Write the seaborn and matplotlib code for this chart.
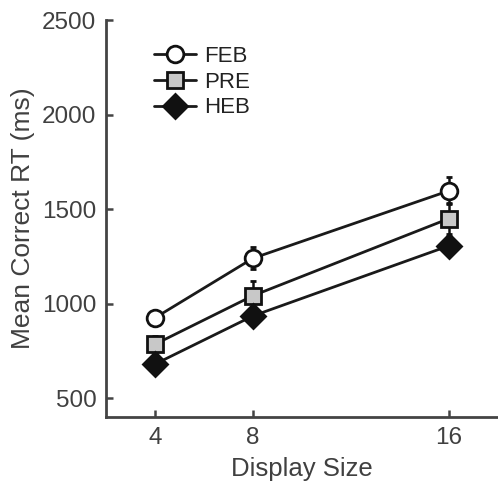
import matplotlib
matplotlib.use("Agg")
import matplotlib.pyplot as plt
import seaborn as sns
import pandas as pd

display_size = [4, 8, 16]
groups = ["FEB", "PRE", "HEB"]
feb_rt = [925, 1240, 1597]
pre_rt = [785, 1042, 1450]
heb_rt = [680, 935, 1306]
feb_err = [30, 58, 72]
pre_err = [42, 80, 80]
heb_err = [20, 30, 40]
y_ticks = [500, 1000, 1500, 2000, 2500]

sns.set_style("ticks")
plt.rcParams['font.family'] = ['Liberation Sans', 'DejaVu Sans']

rows = []
for g, vals, errs in zip(groups, [feb_rt, pre_rt, heb_rt], [feb_err, pre_err, heb_err]):
    for x, v, e in zip(display_size, vals, errs):
        rows.append({"size": x, "group": g, "rt": v, "err": e})
df = pd.DataFrame(rows)

fig = plt.figure(figsize=(4.98, 4.90), dpi=100)
ax = fig.add_axes([0.213, 0.149, 0.787, 0.81])

styles = {
    "FEB": dict(marker="o", mfc="white", ms=12),
    "PRE": dict(marker="s", mfc="#c8c8c8", ms=11),
    "HEB": dict(marker="D", mfc="#111111", ms=12),
}

for g in groups:
    sub = df[df.group == g]
    ax.errorbar(sub["size"], sub["rt"], yerr=sub["err"], fmt="none",
                ecolor="#111111", elinewidth=1.8, capsize=2.5, capthick=2.0, zorder=2)

for g in groups:
    sub = df[df.group == g]
    st = styles[g]
    sns.lineplot(data=sub, x="size", y="rt", ax=ax, color="#1a1a1a", linewidth=2.0,
                 marker=st["marker"], markerfacecolor=st["mfc"], markeredgecolor="#111111",
                 markeredgewidth=2.0, markersize=st["ms"], label=g, zorder=3)

ax.set_xlim(2, 18)
ax.set_ylim(400, 2500)
ax.set_xticks(display_size)
ax.set_xticklabels([str(v) for v in display_size])
ax.set_yticks(y_ticks)
ax.set_yticklabels([str(v) for v in y_ticks])

txtc = "#404040"
ax.tick_params(direction="in", length=5, width=1.8, color="#444444",
               labelsize=17.5, labelcolor=txtc, pad=7)
for s in ["top", "right"]:
    ax.spines[s].set_visible(False)
for s in ["left", "bottom"]:
    ax.spines[s].set_linewidth(2.0)
    ax.spines[s].set_color("#444444")

ax.set_xlabel("Display Size", fontsize=18.5, color=txtc, labelpad=6)
ax.set_ylabel("Mean Correct RT (ms)", fontsize=19, color=txtc, labelpad=5)

leg = ax.legend(loc="upper left", bbox_to_anchor=(0.1, 0.958), frameon=False,
                fontsize=16, handlelength=1.9, handletextpad=0.35, labelspacing=0.22,
                borderaxespad=0)
for t in leg.get_texts():
    t.set_color("#222222")

fig.savefig("out.png", dpi=100)
